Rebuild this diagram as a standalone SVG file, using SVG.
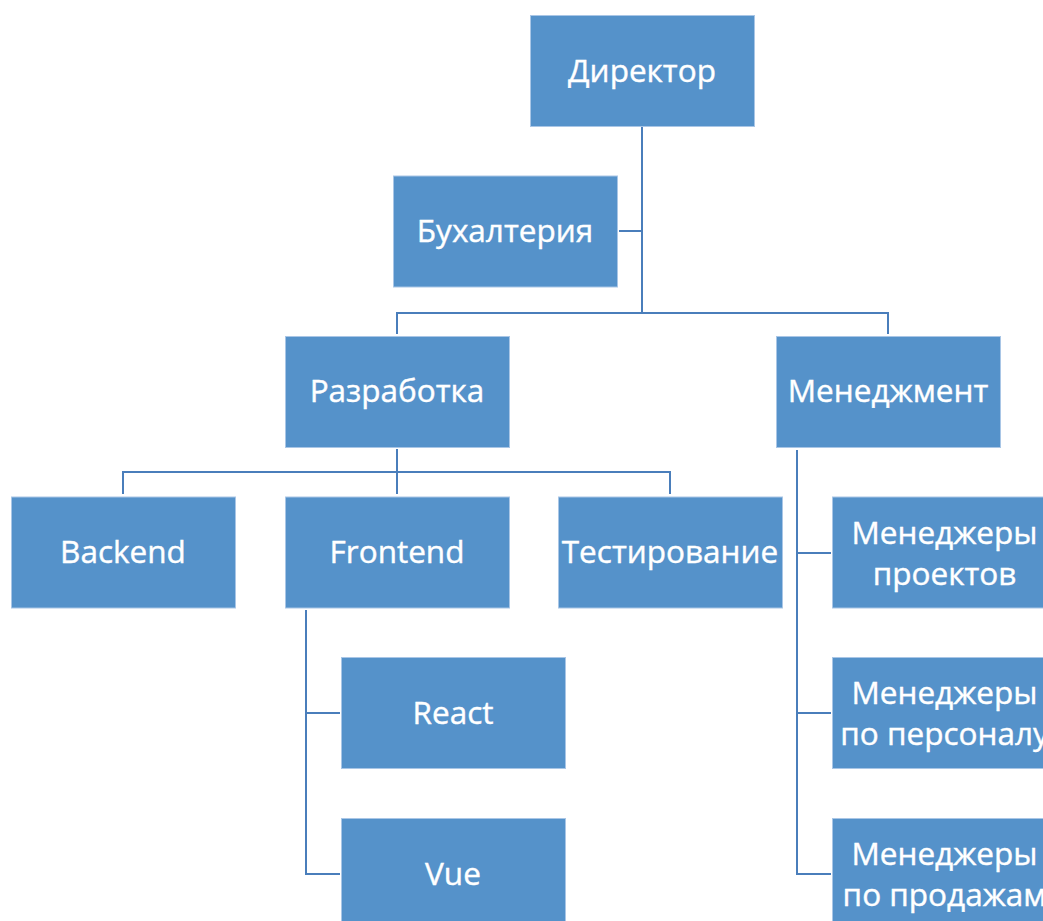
<svg xmlns="http://www.w3.org/2000/svg" width="1043" height="921" viewBox="0 0 1043 921">
  <style>
    .box { fill: #5592CA; stroke: #A9C6E6; stroke-width: 1; }
    .lbl { fill: #FFFFFF; stroke: #FFFFFF; stroke-width: 0.4; font-family: "Open Sans", "Noto Sans", sans-serif; font-size: 31.5px; text-anchor: middle; dominant-baseline: central; }
    .wire { fill: none; stroke: #4A7EBB; stroke-width: 2; }
  </style>
  <rect width="1043" height="921" fill="#FFFFFF"/>

  <!-- connectors -->
  <g id="connectors">
    <path class="wire" d="M642 127 V313"/>
    <path class="wire" d="M619 231 H642"/>
    <path class="wire" d="M397 334 V313 H888 V334"/>
    <path class="wire" d="M397 449 V472"/>
    <path class="wire" d="M123 494 V472 H670 V494"/>
    <path class="wire" d="M397 472 V494"/>
    <path class="wire" d="M306 610 V874 H340"/>
    <path class="wire" d="M306 713 H340"/>
    <path class="wire" d="M797 450 V874 H831"/>
    <path class="wire" d="M797 553 H831"/>
    <path class="wire" d="M797 713 H831"/>
  </g>

  <g id="director">
    <rect class="box" x="530.5" y="15.5" width="224" height="111"/>
    <text class="lbl" x="642" y="69.5">Директор</text>
  </g>
  <g id="accounting">
    <rect class="box" x="393.5" y="176" width="224" height="111"/>
    <text class="lbl" x="505" y="229.5">Бухалтерия</text>
  </g>
  <g id="development">
    <rect class="box" x="285.5" y="336.5" width="224" height="111"/>
    <text class="lbl" x="397" y="389.5">Разработка</text>
  </g>
  <g id="management">
    <rect class="box" x="776.5" y="336.5" width="224" height="111"/>
    <text class="lbl" x="888" y="389.5">Менеджмент</text>
  </g>
  <g id="backend">
    <rect class="box" x="11.5" y="497" width="224" height="111"/>
    <text class="lbl" x="123" y="550.5">Backend</text>
  </g>
  <g id="frontend">
    <rect class="box" x="285.5" y="497" width="224" height="111"/>
    <text class="lbl" x="397" y="550.5">Frontend</text>
  </g>
  <g id="testing">
    <rect class="box" x="558.5" y="497" width="224" height="111"/>
    <text class="lbl" x="670" y="550.5">Тестирование</text>
  </g>
  <g id="project-managers">
    <rect class="box" x="832.5" y="497" width="224" height="111"/>
    <text class="lbl" x="944.5" y="531">Менеджеры</text>
    <text class="lbl" x="944.5" y="572">проектов</text>
  </g>
  <g id="react">
    <rect class="box" x="341.5" y="657.5" width="224" height="111"/>
    <text class="lbl" x="453" y="711">React</text>
  </g>
  <g id="hr-managers">
    <rect class="box" x="832.5" y="657.5" width="224" height="111"/>
    <text class="lbl" x="944.5" y="691.5">Менеджеры</text>
    <text class="lbl" x="944.5" y="732.5">по персоналу</text>
  </g>
  <g id="vue">
    <rect class="box" x="341.5" y="818.5" width="224" height="111"/>
    <text class="lbl" x="453" y="872">Vue</text>
  </g>
  <g id="sales-managers">
    <rect class="box" x="832.5" y="818.5" width="224" height="111"/>
    <text class="lbl" x="944.5" y="852">Менеджеры</text>
    <text class="lbl" x="944.5" y="893">по продажам</text>
  </g>
</svg>
